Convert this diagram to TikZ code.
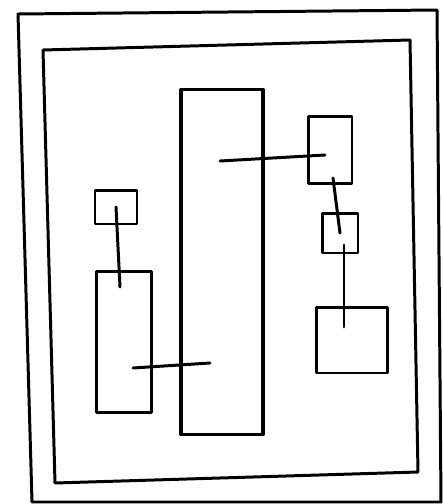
\documentclass[tikz,border=0pt]{standalone}
\usepackage{tikz}
\usetikzlibrary{positioning}

\tikzset{
  sketch/.style={line width=1.7pt, line join=round, line cap=round},
  box/.style={draw, sketch, inner sep=0pt}
}

\begin{document}
\begin{tikzpicture}[x=0.02cm, y=-0.02cm]

    \useasboundingbox (0,0) rectangle (443,504);

    % --- Rahmen ---
    \draw[sketch] (18,14) -- (437,10) -- (441,502) -- (32,502) -- cycle;
    \draw[sketch] (43,50) -- (410,40) -- (418,472) -- (55,483) -- cycle;

    % --- Kaesten ---
    \node[box, line width=2.1pt, minimum width=1.64cm, minimum height=6.9cm] (main) at (222,262) {};
    \node[box, minimum width=0.84cm, minimum height=0.68cm] (topleft) at (116,207) {};
    \node[box, minimum width=1.10cm, minimum height=2.82cm] (leftbar) at (124,342) {};
    \node[box, minimum width=0.88cm, minimum height=1.34cm] (righttop) at (330,150) {};
    \node[box, minimum width=0.72cm, minimum height=0.80cm] (rightmid) at (340,233) {};
    \node[box, minimum width=1.42cm, minimum height=1.32cm] (rightbot) at (352,340) {};

    % --- Verbindungen (freie Enden) ---
    \coordinate (leftbarIn) at (120,287);
    \coordinate (leftbarEnd) at (133,368);
    \coordinate (mainIn) at (210,363);
    \coordinate (mainEnd) at (220,161);
    \coordinate (righttopIn) at (325,155);
    \coordinate (righttopEnd) at (333,178);
    \coordinate (rightmidEnd) at (344,245);
    \coordinate (rightbotIn) at (344,327);

    \draw[sketch] (topleft.center) -- (leftbarIn);
    \draw[sketch] (leftbarEnd) -- (mainIn);
    \draw[sketch] (mainEnd) -- (righttopIn);
    \draw[sketch] (righttopEnd) -- (rightmid.center);
    \draw[sketch] (rightmidEnd) -- (rightbotIn);

\end{tikzpicture}
\end{document}
